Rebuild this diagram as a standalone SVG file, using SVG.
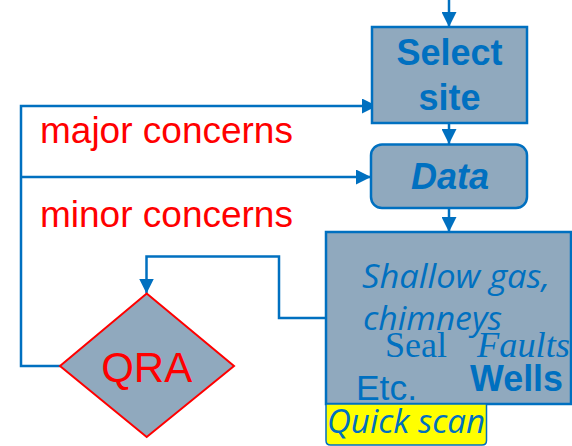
<svg xmlns="http://www.w3.org/2000/svg" width="572" height="446" viewBox="0 0 572 446">
<defs>
<style>
.box{fill:#90A9BE;stroke:#0070C0;stroke-width:2.5}
.conn{fill:none;stroke:#0070C0;stroke-width:2.5}
.lbl{font-family:"Liberation Sans",Arial,sans-serif;font-size:37px;fill:#FF0000}
.bt{font-family:"Liberation Sans",Arial,sans-serif;font-weight:bold;font-size:36px;fill:#0070C0;text-anchor:middle}
.it{font-family:"Open Sans","Noto Sans",sans-serif;font-style:italic;font-size:32px;fill:#0070C0}
.sf{font-family:"Liberation Serif","Times New Roman",serif;font-size:36px;fill:#0070C0}
</style>
<marker id="ah" markerUnits="userSpaceOnUse" markerWidth="15" markerHeight="15" refX="15" refY="7.5" orient="auto" viewBox="0 0 15 15">
<path d="M0,0 L15,7.5 L0,15 z" fill="#0070C0"/>
</marker>
</defs>
<g id="connectors">
<line class="conn" x1="449" y1="0" x2="449" y2="27" marker-end="url(#ah)"/>
<line class="conn" x1="449" y1="123" x2="449" y2="144" marker-end="url(#ah)"/>
<line class="conn" x1="449" y1="208" x2="449" y2="232" marker-end="url(#ah)"/>
<polyline class="conn" points="60,366 21,366 21,106 377,106" marker-end="url(#ah)"/>
<polyline class="conn" points="21,177 371,177" marker-end="url(#ah)"/>
<polyline class="conn" points="326,318 279,318 279,256.5 146.5,256.5 146.5,293.5" marker-end="url(#ah)"/>
</g>
<g id="select-site">
<rect class="box" x="372" y="27" width="155" height="96"/>
<text class="bt" x="449.5" y="65">Select</text>
<text class="bt" x="449.5" y="110">site</text>
</g>
<g id="data">
<rect class="box" x="371" y="144.5" width="156" height="63.5" rx="11"/>
<text class="bt" x="450" y="188.5" font-style="italic">Data</text>
</g>
<g id="quick-scan">
<rect class="box" x="326" y="232" width="245" height="172"/>
<text class="it" x="362" y="288" textLength="188" lengthAdjust="spacingAndGlyphs">Shallow gas,</text>
<text class="it" x="363" y="330" textLength="139" lengthAdjust="spacingAndGlyphs">chimneys</text>
<text class="sf" x="385" y="357" textLength="62" lengthAdjust="spacingAndGlyphs">Seal</text>
<text class="sf" x="477" y="357" font-style="italic" textLength="93" lengthAdjust="spacingAndGlyphs">Faults</text>
<text x="470" y="391" font-family="Liberation Sans,Arial,sans-serif" font-weight="bold" font-size="36" fill="#0070C0" textLength="93" lengthAdjust="spacingAndGlyphs">Wells</text>
<text x="356" y="400" font-family="Liberation Sans,Arial,sans-serif" font-size="35" fill="#0070C0" textLength="61" lengthAdjust="spacingAndGlyphs">Etc.</text>
<path d="M326,404 H486.5 V440.5 Q486.5,445 482,445 H330.5 Q326,445 326,440.5 Z" fill="#FFFF00" stroke="#0070C0" stroke-width="1.5"/>
<text class="it" x="327" y="433" font-size="31" textLength="158" lengthAdjust="spacingAndGlyphs">Quick scan</text>
</g>
<g id="qra">
<polygon points="146.7,293.5 234,366 146.7,437 60,366" fill="#90A9BE" stroke="#FF0000" stroke-width="2"/>
<text x="146.7" y="381.5" font-family="Liberation Sans,Arial,sans-serif" font-size="42" fill="#FF0000" text-anchor="middle">QRA</text>
</g>
<g id="labels">
<text class="lbl" x="40" y="143">major concerns</text>
<text class="lbl" x="40" y="227">minor concerns</text>
</g>
</svg>
